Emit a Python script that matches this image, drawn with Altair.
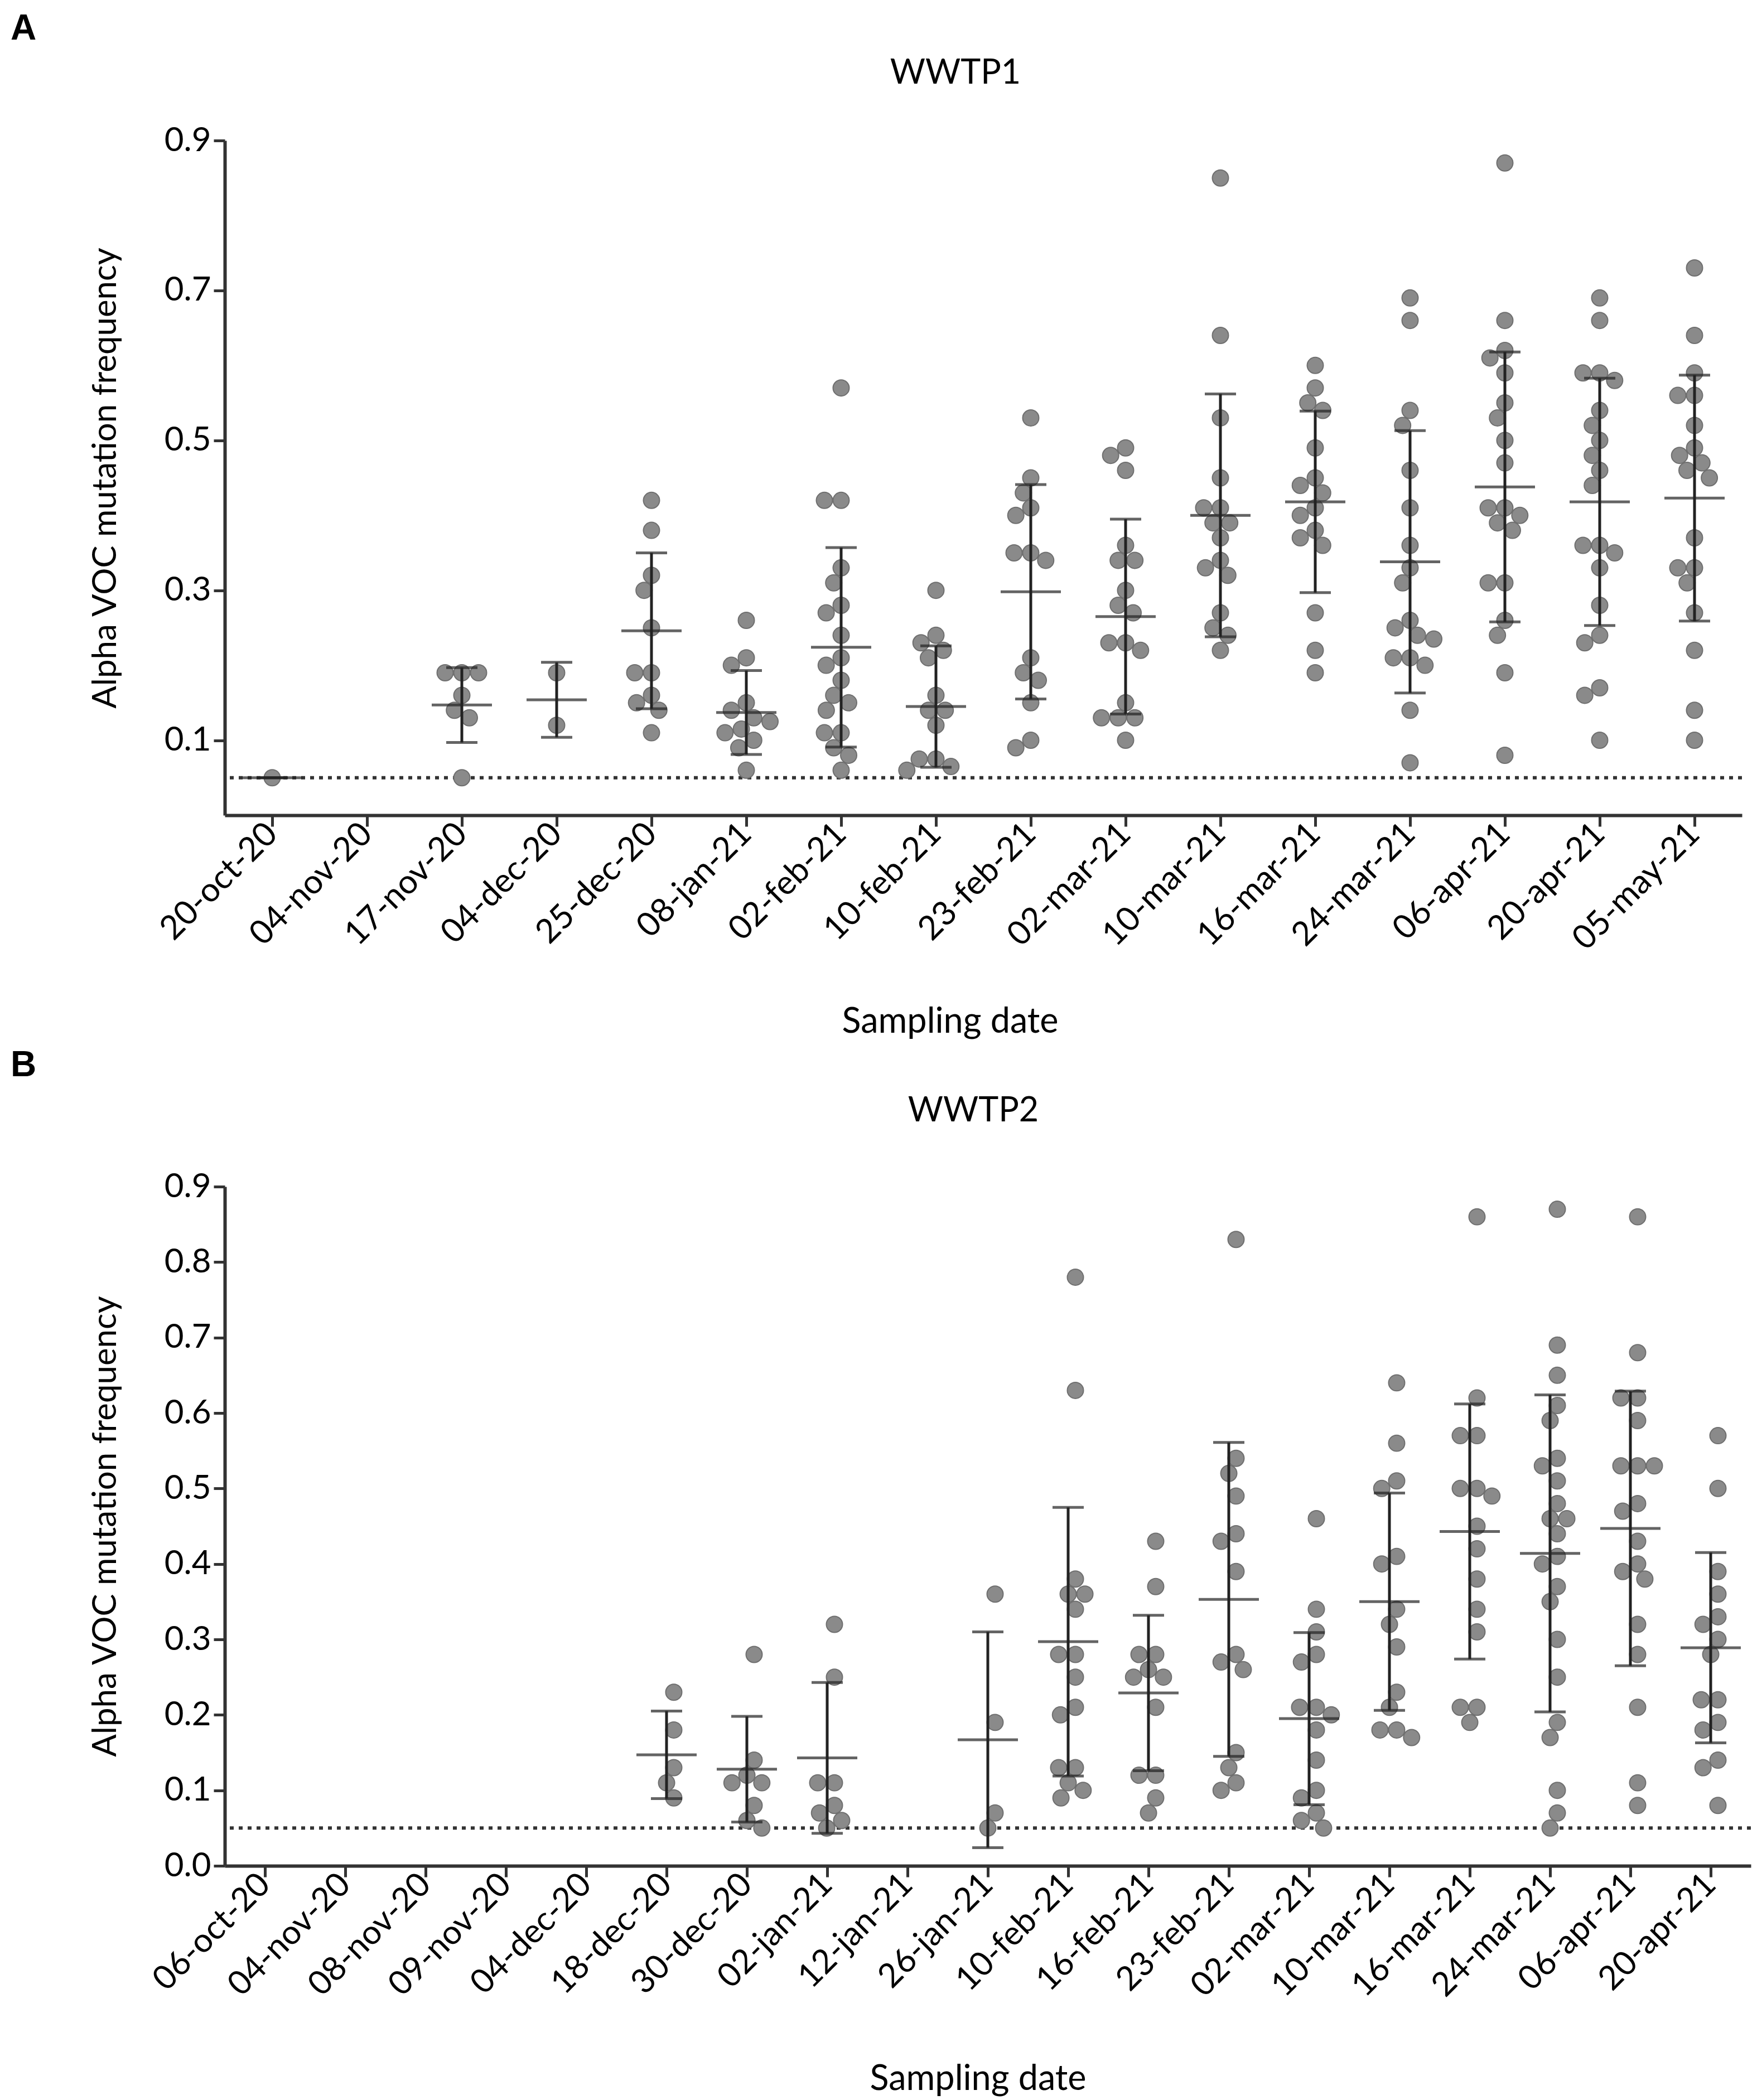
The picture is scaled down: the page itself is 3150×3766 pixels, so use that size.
import math
import altair as alt
import pandas as pd

FONT = "Lato"

# ---------------- WWTP1 (panel A) ----------------
dates_a = ["20-oct-20", "04-nov-20", "17-nov-20", "04-dec-20", "25-dec-20", "08-jan-21",
           "02-feb-21", "10-feb-21", "23-feb-21", "02-mar-21", "10-mar-21", "16-mar-21",
           "24-mar-21", "06-apr-21", "20-apr-21", "05-may-21"]

a_20oct = [0.05]
a_04nov = []
a_17nov = [0.19, 0.19, 0.19, 0.16, 0.14, 0.13, 0.05]
a_04dec = [0.19, 0.12]
a_25dec = [0.42, 0.38, 0.32, 0.30, 0.25, 0.19, 0.19, 0.16, 0.15, 0.14, 0.11]
a_08jan = [0.26, 0.21, 0.20, 0.15, 0.14, 0.13, 0.125, 0.115, 0.11, 0.10, 0.09, 0.06]
a_02feb = [0.57, 0.42, 0.42, 0.33, 0.31, 0.28, 0.27, 0.24, 0.21, 0.20, 0.18, 0.16, 0.15,
           0.14, 0.11, 0.11, 0.09, 0.08, 0.06]
a_10feb = [0.30, 0.24, 0.23, 0.22, 0.21, 0.16, 0.14, 0.14, 0.12, 0.075, 0.075, 0.065, 0.06]
a_23feb = [0.53, 0.45, 0.43, 0.41, 0.40, 0.35, 0.35, 0.34, 0.21, 0.19, 0.18, 0.15, 0.10, 0.09]
a_02mar = [0.49, 0.48, 0.46, 0.36, 0.34, 0.34, 0.30, 0.28, 0.27, 0.23, 0.23, 0.22, 0.15,
           0.13, 0.13, 0.13, 0.10]
a_10mar = [0.85, 0.64, 0.53, 0.45, 0.41, 0.41, 0.39, 0.39, 0.37, 0.34, 0.33, 0.32, 0.27,
           0.25, 0.24, 0.22]
a_16mar = [0.60, 0.57, 0.55, 0.54, 0.49, 0.45, 0.44, 0.43, 0.41, 0.40, 0.38, 0.37, 0.36,
           0.27, 0.22, 0.19]
a_24mar = [0.69, 0.66, 0.54, 0.52, 0.46, 0.41, 0.36, 0.33, 0.31, 0.26, 0.25, 0.24, 0.235,
           0.21, 0.21, 0.20, 0.14, 0.07]
a_06apr = [0.87, 0.66, 0.62, 0.61, 0.59, 0.55, 0.53, 0.50, 0.47, 0.41, 0.41, 0.40, 0.39,
           0.38, 0.31, 0.31, 0.26, 0.24, 0.19, 0.08]
a_20apr = [0.69, 0.66, 0.59, 0.59, 0.58, 0.54, 0.52, 0.50, 0.48, 0.46, 0.44, 0.36, 0.36,
           0.35, 0.33, 0.28, 0.24, 0.23, 0.17, 0.16, 0.10]
a_05may = [0.73, 0.64, 0.59, 0.56, 0.56, 0.52, 0.49, 0.48, 0.47, 0.46, 0.45, 0.37, 0.33,
           0.33, 0.31, 0.27, 0.22, 0.14, 0.10]

points_a = [a_20oct, a_04nov, a_17nov, a_04dec, a_25dec, a_08jan, a_02feb, a_10feb, a_23feb,
            a_02mar, a_10mar, a_16mar, a_24mar, a_06apr, a_20apr, a_05may]

mean_a = [0.05, None, 0.147, 0.154, 0.246, 0.137, 0.224, 0.145, 0.298, 0.265, 0.400, 0.418,
          0.338, 0.438, 0.418, 0.423]
sd_a = [0.0, None, 0.050, 0.050, 0.104, 0.056, 0.133, 0.081, 0.143, 0.130, 0.162, 0.121,
        0.175, 0.180, 0.165, 0.164]

# ---------------- WWTP2 (panel B) ----------------
dates_b = ["06-oct-20", "04-nov-20", "08-nov-20", "09-nov-20", "04-dec-20", "18-dec-20",
           "30-dec-20", "02-jan-21", "12-jan-21", "26-jan-21", "10-feb-21", "16-feb-21",
           "23-feb-21", "02-mar-21", "10-mar-21", "16-mar-21", "24-mar-21", "06-apr-21",
           "20-apr-21"]

b_18dec = [0.23, 0.18, 0.13, 0.11, 0.09]
b_30dec = [0.28, 0.14, 0.12, 0.11, 0.11, 0.08, 0.06, 0.05]
b_02jan = [0.32, 0.25, 0.11, 0.11, 0.08, 0.07, 0.06, 0.05]
b_26jan = [0.36, 0.19, 0.07, 0.05]
b_10feb = [0.78, 0.63, 0.38, 0.36, 0.36, 0.34, 0.28, 0.28, 0.25, 0.21, 0.20, 0.13, 0.13,
           0.11, 0.10, 0.09]
b_16feb = [0.43, 0.37, 0.28, 0.28, 0.26, 0.25, 0.25, 0.21, 0.12, 0.12, 0.09, 0.07]
b_23feb = [0.83, 0.54, 0.52, 0.49, 0.44, 0.43, 0.39, 0.28, 0.27, 0.26, 0.15, 0.13, 0.11, 0.10]
b_02mar = [0.46, 0.34, 0.31, 0.28, 0.27, 0.21, 0.21, 0.20, 0.18, 0.14, 0.10, 0.09, 0.07,
           0.06, 0.05]
b_10mar = [0.64, 0.56, 0.51, 0.50, 0.41, 0.40, 0.34, 0.32, 0.29, 0.23, 0.21, 0.18, 0.18, 0.17]
b_16mar = [0.86, 0.62, 0.57, 0.57, 0.50, 0.50, 0.49, 0.45, 0.42, 0.38, 0.34, 0.31, 0.21,
           0.21, 0.19]
b_24mar = [0.87, 0.69, 0.65, 0.61, 0.59, 0.54, 0.53, 0.51, 0.48, 0.46, 0.46, 0.44, 0.41,
           0.40, 0.37, 0.35, 0.30, 0.25, 0.19, 0.17, 0.10, 0.07, 0.05]
b_06apr = [0.86, 0.68, 0.62, 0.62, 0.59, 0.53, 0.53, 0.53, 0.48, 0.47, 0.43, 0.40, 0.39,
           0.38, 0.32, 0.28, 0.21, 0.11, 0.08]
b_20apr = [0.57, 0.50, 0.39, 0.36, 0.33, 0.32, 0.30, 0.28, 0.22, 0.22, 0.19, 0.18, 0.14,
           0.13, 0.08]

points_b = [[], [], [], [], [], b_18dec, b_30dec, b_02jan, [], b_26jan, b_10feb, b_16feb,
            b_23feb, b_02mar, b_10mar, b_16mar, b_24mar, b_06apr, b_20apr]

mean_b = [None, None, None, None, None, 0.147, 0.128, 0.143, None, 0.167, 0.297, 0.229,
          0.353, 0.195, 0.350, 0.443, 0.414, 0.447, 0.289]
sd_b = [None, None, None, None, None, 0.058, 0.070, 0.100, None, 0.143, 0.178, 0.103,
        0.208, 0.114, 0.144, 0.169, 0.210, 0.182, 0.126]

LOD = 0.05  # dotted detection-limit line

W_A, H_A = 2720, 1210
W_B, H_B = 2736, 1218
DOT_SEP = 30  # minimal centre distance used by the swarm layout (px)

INK = "#222222"
AXIS = "#333333"


def swarm(values, px_per_unit, sep):
    """Simple beeswarm: horizontal offsets (px) so dots do not pile up."""
    order = sorted(range(len(values)), key=lambda i: -values[i])
    placed = []
    offs = [0.0] * len(values)
    for i in order:
        y = values[i] * px_per_unit
        cands = [0.0]
        for px, py in placed:
            dy = abs(y - py)
            if dy < sep:
                dx = math.sqrt(sep * sep - dy * dy)
                cands += [px - dx, px + dx]
        best = 0.0
        for c in sorted(cands, key=lambda c: (round(abs(c), 3), c)):
            if all((c - px) ** 2 + (y - py) ** 2 >= sep * sep - 1e-6 for px, py in placed):
                best = c
                break
        offs[i] = best
        placed.append((best, y))
    return offs


def panel(dates, points, means, sds, width, height, yvals, letter, title,
          letter_y, title_x, title_y, xtitle_x, xtitle_pad):
    bw = width / len(dates)
    ppu = height / 0.9
    rows = []
    for d, vals in zip(dates, points):
        offs = swarm(vals, ppu, DOT_SEP)
        for v, o in zip(vals, offs):
            rows.append({"date": d, "value": v, "off": o})
    pts = pd.DataFrame(rows)

    srows = []
    for d, m, s in zip(dates, means, sds):
        if m is None:
            continue
        srows.append({"date": d, "mean": m, "sd": s})
    stats = pd.DataFrame(srows)

    xax = alt.Axis(title="Sampling date", labelAngle=-45, labelAlign="right",
                   labelBaseline="middle", labelPadding=4, labelLimit=0,
                   titlePadding=xtitle_pad, titleX=xtitle_x, titleFontSize=63)
    x = alt.X("date:N", sort=dates,
              scale=alt.Scale(type="band", domain=dates, paddingInner=0, paddingOuter=0),
              axis=xax)
    yax = alt.Axis(values=yvals, format=".1f", title="Alpha VOC mutation frequency",
                   titlePadding=74, labelPadding=5)
    yscale = alt.Scale(domain=[0, 0.9], nice=False, zero=True)

    dots = alt.Chart(pts).mark_circle(size=840, color="#8a8a8a", opacity=1,
                                      stroke="#6f6f6f", strokeWidth=2).encode(
        x=x,
        xOffset=alt.XOffset("off:Q", scale=alt.Scale(domain=[-bw / 2, bw / 2], range=[0, bw])),
        y=alt.Y("value:Q", scale=yscale, axis=yax),
    )

    base = alt.Chart(stats).transform_calculate(
        lo="datum.mean - datum.sd", hi="datum.mean + datum.sd")

    err = base.mark_rule(color=INK, strokeWidth=5).encode(
        x=x, y=alt.Y("lo:Q", scale=yscale, axis=yax), y2="hi:Q")
    mean_tick = base.mark_tick(color=INK, size=108, thickness=5, orient="horizontal").encode(
        x=x, y=alt.Y("mean:Q", scale=yscale, axis=yax))
    cap_lo = base.mark_tick(color=INK, size=56, thickness=5, orient="horizontal").encode(
        x=x, y=alt.Y("lo:Q", scale=yscale, axis=yax))
    cap_hi = base.mark_tick(color=INK, size=56, thickness=5, orient="horizontal").encode(
        x=x, y=alt.Y("hi:Q", scale=yscale, axis=yax))

    lod = alt.Chart(pd.DataFrame({"lod": [LOD]})).mark_rule(
        color="#333333", strokeWidth=6, strokeDash=[7, 9]).encode(
        y=alt.Y("lod:Q", scale=yscale, axis=yax))

    lab = alt.Chart(pd.DataFrame({"t": [letter]})).mark_text(
        font="Liberation Sans", fontSize=64, fontWeight="bold", align="left",
        baseline="middle", color="black").encode(
        text="t:N", x=alt.value(-384), y=alt.value(letter_y))

    ttl = alt.Chart(pd.DataFrame({"t": [title]})).mark_text(
        font=FONT, fontSize=61, align="center", baseline="middle", color="black").encode(
        text="t:N", x=alt.value(title_x), y=alt.value(title_y))

    return alt.layer(lod, dots, err, mean_tick, cap_lo, cap_hi, lab, ttl).properties(
        width=width, height=height)


chart_a = panel(dates_a, points_a, mean_a, sd_a, W_A, H_A, [0.1, 0.3, 0.5, 0.7, 0.9],
                "A", "WWTP1", -200, 1310, -120, 1300, 139)
chart_b = panel(dates_b, points_b, mean_b, sd_b, W_B, H_B,
                [0.0, 0.1, 0.2, 0.3, 0.4, 0.5, 0.6, 0.7, 0.8, 0.9],
                "B", "WWTP2", -217, 1342, -135, 1350, 151)

chart = alt.vconcat(chart_a, chart_b, spacing=15).properties(
    padding={"left": 11, "top": 12, "right": 0, "bottom": 0}
).configure_view(stroke=None).configure_axis(
    grid=False,
    domainColor=AXIS, domainWidth=6,
    tickColor=AXIS, tickWidth=5, tickSize=20,
    labelFont=FONT, labelFontSize=60, labelColor="black",
    titleFont=FONT, titleFontSize=60, titleFontWeight="normal", titleColor="black",
)

chart.save("out.html", embed_options={"renderer": "svg", "actions": False})
